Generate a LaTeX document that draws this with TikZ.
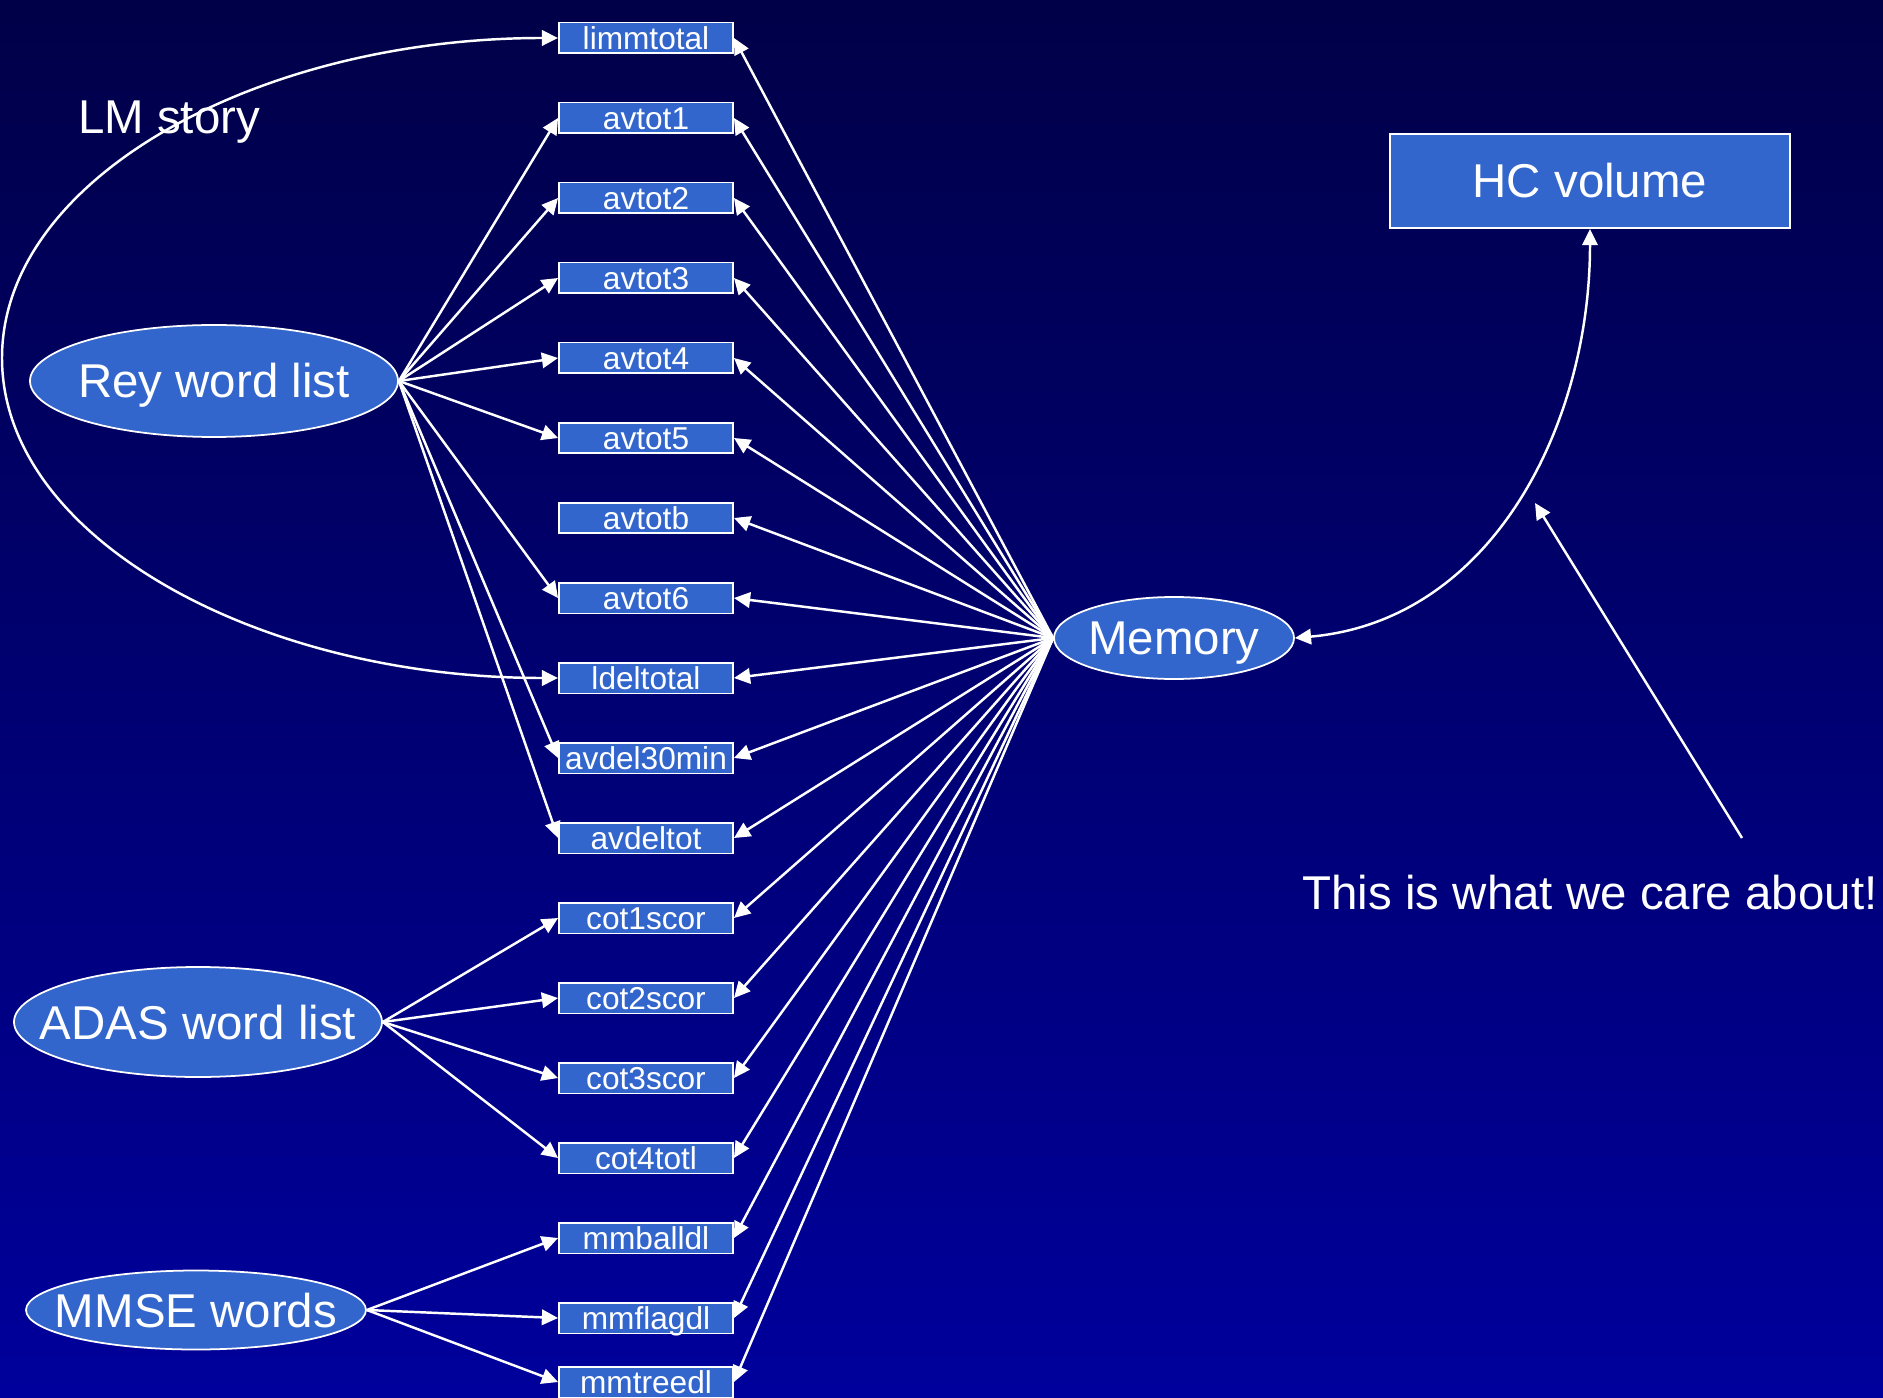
\documentclass[tikz,border=0pt]{standalone}
\usepackage{fontspec}
\setmainfont{Liberation Sans}
\usepackage{tikz}
\usetikzlibrary{shapes,arrows.meta}
\definecolor{boxblue}{HTML}{3366CC}
\definecolor{bgtop}{HTML}{000048}
\definecolor{bgbottom}{HTML}{00009C}
\tikzstyle{obsvar} = [draw=white, line width=0.55pt, fill=boxblue, text=white, text centered, minimum width=1.74cm, inner sep=0pt, text height=7.6pt, text depth=1.2pt, font=\fontsize{9}{10}\selectfont]
\tikzstyle{factor} = [ellipse, draw=white, line width=0.5pt, fill=boxblue, text=white, inner xsep=-1.2cm, inner ysep=-0.2cm, text height=11pt, text depth=1.33pt, font=\fontsize{13.5}{15}\selectfont]
\tikzstyle{outcome} = [rectangle, draw=white, line width=0.6pt, fill=boxblue, text=white, inner sep=0pt, text height=11pt, text depth=1.33pt, minimum width=4.0cm, minimum height=0.94cm, font=\fontsize{13.5}{15}\selectfont]
\tikzstyle{caption} = [text=white, anchor=base, inner sep=0pt, font=\fontsize{13.5}{15}\selectfont]
\tikzstyle{arrow} = [draw=white, line width=0.7pt, -{Triangle[length=4.6pt,width=4.4pt]}]
\tikzstyle{dblarrow} = [draw=white, line width=0.7pt, {Triangle[length=4.6pt,width=4.4pt]}-{Triangle[length=4.6pt,width=4.4pt]}]
\newcommand{\obsvar}[2]{node (v#1) [obsvar] {#2}}
\newcommand{\factor}[3]{node (f#1) [factor,#2] {#3}}
\newcommand{\latent}[3]{node (l#1) [factor,#2] {#3}}
\newcommand{\outcome}[2]{node (o#1) [outcome] {#2}}

\begin{document}
\begin{tikzpicture}
% background
\shade [top color=bgtop, bottom color=bgbottom] (0,0) rectangle (18.83,-13.98);
\useasboundingbox (0,0) rectangle (18.83,-13.98);

% observed scores
\path (6.46,-0.38) \obsvar{1}{limmtotal};
\path (v1)+(0,-0.8) \obsvar{2}{avtot1};
\path (v2)+(0,-0.8) \obsvar{3}{avtot2};
\path (v3)+(0,-0.8) \obsvar{4}{avtot3};
\path (v4)+(0,-0.8) \obsvar{5}{avtot4};
\path (v5)+(0,-0.8) \obsvar{6}{avtot5};
\path (v6)+(0,-0.8) \obsvar{7}{avtotb};
\path (v7)+(0,-0.8) \obsvar{8}{avtot6};
\path (v8)+(0,-0.8) \obsvar{9}{ldeltotal};
\path (v9)+(0,-0.8) \obsvar{10}{avdel30min};
\path (v10)+(0,-0.8) \obsvar{11}{avdeltot};
\path (v11)+(0,-0.8) \obsvar{12}{cot1scor};
\path (v12)+(0,-0.8) \obsvar{13}{cot2scor};
\path (v13)+(0,-0.8) \obsvar{14}{cot3scor};
\path (v14)+(0,-0.8) \obsvar{15}{cot4totl};
\path (v15)+(0,-0.8) \obsvar{16}{mmballdl};
\path (v16)+(0,-0.8) \obsvar{17}{mmflagdl};
\path (v17)+(0,-0.64) \obsvar{18}{mmtreedl};

% test factors
\path (v1)+(-4.32,-3.43) \factor{1}{minimum width=3.68cm, minimum height=1.12cm}{Rey word list};
\path (f1)+(-0.16,-6.41) \factor{2}{minimum width=3.68cm, minimum height=1.10cm}{ADAS word list};
\path (f2)+(-0.02,-2.88) \factor{3}{minimum width=3.40cm, minimum height=0.79cm}{MMSE words};

% memory and HC volume
\path (v1)+(5.28,-6.00) \latent{1}{minimum width=2.40cm, minimum height=0.82cm}{Memory};
\path (l1)+(4.16,4.57) \outcome{1}{HC volume};

% texts
\node (lmtext) [caption] at (1.69,-1.34) {LM story};
\node (note) [caption] at (15.90,-9.09) {This is what we care about!};
\coordinate (lmleft) at (0.02,-3.58);
\coordinate (notetail) at (17.42,-8.38);
\coordinate (notehead) at (15.35,-5.03);

% LM story
\path [dblarrow] (v1.west) .. controls +(-3.0,0) and +(0,1.8) .. (lmleft) .. controls +(0,-1.8) and +(-3.0,0) .. (v9.west);

% Rey word list
\path [arrow] (f1.east) -- (v2.west);
\path [arrow] (f1.east) -- (v3.west);
\path [arrow] (f1.east) -- (v4.west);
\path [arrow] (f1.east) -- (v5.west);
\path [arrow] (f1.east) -- (v6.west);
\path [arrow] (f1.east) -- (v8.west);
\path [arrow] (f1.east) -- (v10.west);
\path [arrow] (f1.east) -- (v11.west);

% ADAS word list
\path [arrow] (f2.east) -- (v12.west);
\path [arrow] (f2.east) -- (v13.west);
\path [arrow] (f2.east) -- (v14.west);
\path [arrow] (f2.east) -- (v15.west);

% MMSE words
\path [arrow] (f3.east) -- (v16.west);
\path [arrow] (f3.east) -- (v17.west);
\path [arrow] (f3.east) -- (v18.west);

% Memory
\path [arrow] (l1.west) -- (v1.east);
\path [arrow] (l1.west) -- (v2.east);
\path [arrow] (l1.west) -- (v3.east);
\path [arrow] (l1.west) -- (v4.east);
\path [arrow] (l1.west) -- (v5.east);
\path [arrow] (l1.west) -- (v6.east);
\path [arrow] (l1.west) -- (v7.east);
\path [arrow] (l1.west) -- (v8.east);
\path [arrow] (l1.west) -- (v9.east);
\path [arrow] (l1.west) -- (v10.east);
\path [arrow] (l1.west) -- (v11.east);
\path [arrow] (l1.west) -- (v12.east);
\path [arrow] (l1.west) -- (v13.east);
\path [arrow] (l1.west) -- (v14.east);
\path [arrow] (l1.west) -- (v15.east);
\path [arrow] (l1.west) -- (v16.east);
\path [arrow] (l1.west) -- (v17.east);
\path [arrow] (l1.west) -- (v18.east);

\path [dblarrow] (l1.east) to[out=5, in=-90] (o1.south);
\path [arrow] (notetail) -- (notehead);
\end{tikzpicture}
\end{document}
